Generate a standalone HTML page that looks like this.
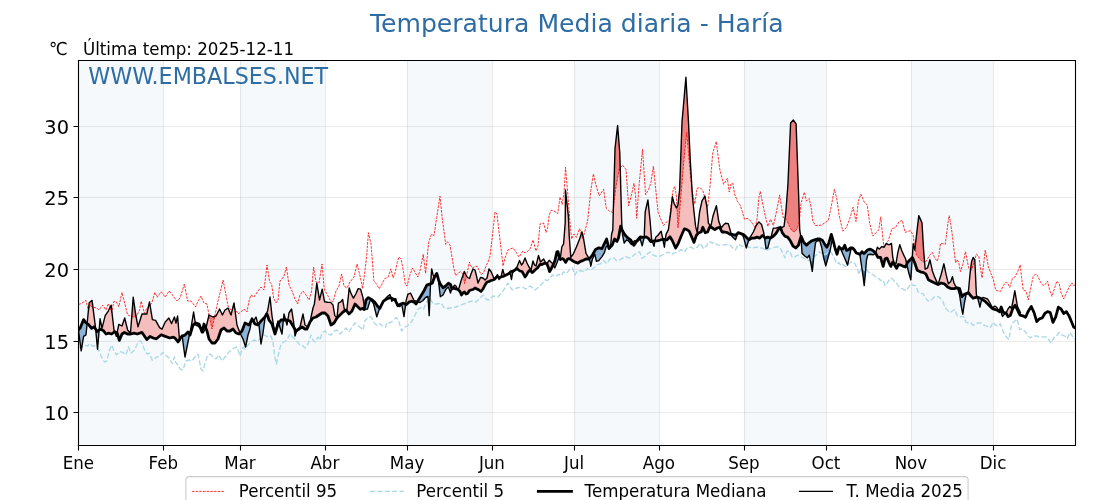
<!DOCTYPE html>
<html lang="es"><head><meta charset="utf-8"><title>Temperatura Media diaria - Haría</title>
<style>html,body{margin:0;padding:0;background:#fff;width:1120px;height:500px;overflow:hidden}svg{display:block;will-change:transform}</style>
</head><body>
<svg width="1120" height="500" viewBox="0 0 1120 500">
<rect x="0" y="0" width="1120" height="500" fill="#ffffff"/>
<rect x="78.4" y="60" width="84.89" height="385" fill="#f5f9fc"/>
<rect x="239.97" y="60" width="84.89" height="385" fill="#f5f9fc"/>
<rect x="407.02" y="60" width="84.89" height="385" fill="#f5f9fc"/>
<rect x="574.06" y="60" width="84.89" height="385" fill="#f5f9fc"/>
<rect x="743.85" y="60" width="82.15" height="385" fill="#f5f9fc"/>
<rect x="910.89" y="60" width="82.15" height="385" fill="#f5f9fc"/>
<path d="M78.5 60V445M163.5 60V445M240.5 60V445M325.5 60V445M407.5 60V445M492.5 60V445M574.5 60V445M659.5 60V445M744.5 60V445M826.5 60V445M911.5 60V445M993.5 60V445" stroke="#b0b0b0" stroke-opacity="0.25" stroke-width="1.1" fill="none"/>
<path d="M78.4 412.5H1075.2M78.4 341.5H1075.2M78.4 269.5H1075.2M78.4 197.5H1075.2M78.4 126.5H1075.2" stroke="#b0b0b0" stroke-opacity="0.25" stroke-width="1.1" fill="none"/>
<defs>
<clipPath id="axc"><rect x="78.4" y="60" width="996.8" height="385"/></clipPath>
<clipPath id="aMed"><path d="M78.4,0 L78.4,330 80.4,327.6 83.6,319.6 86,322.8 88.4,324.4 91.6,328.4 94,326.8 97.2,331.6 100.4,329.2 103.6,330.8 106,334 108.4,333.2 111.6,334 114.8,331.6 117.2,333.2 119.28,340.4 122,334 124.4,332.4 127.6,334 130.8,334 134,333.2 137.2,334 142,332.4 146.8,339.6 150,336.4 153.2,338 156.4,338.8 161.2,334.8 165.2,336.4 170,338 173.2,337.2 175,338 178,342 181,337 185,335 188,332 190,335 193,325 196,323 199,324 202,332 204,324 207,331 209,339 212,343 215,343 218,339 221,330 224,328 227,331 230,331 233,329 236,333 239,334 242,331 245,323 249,325 252,319 255,324 258,325 261,321 264,318 267,314 269,320 272,324 275,334 278,324 281,320 284,320 287,320 290,321 293,326 296,331 299,329 302,327 305,329 307,329 310,322 313,318 316,317 319,315 322,313 325,313 328,316 331,325 334,323 337,318 340,315 343,312 346,310 349,314 352,311 355,304 360.29,309.35 362.4,308.4 364.2,309.6 366,300 368.4,297.6 371.4,299.4 375,302.4 377.4,306 379.8,308.4 383.4,301.2 387,298.8 390.6,297.6 395,300 398.06,305.76 400.76,303.96 403.46,303.06 406.16,304.86 408.86,302.16 411.55,301.26 414.25,302.16 416.05,303.96 418.75,299.46 421.45,294.96 424.14,290.47 426.84,285.07 429.54,284.17 432.24,283.27 434.58,276.98 436.73,273.38 438.53,279.68 440.33,284.17 443.03,287.77 445.73,285.97 448.42,283.27 450.5,284.5 452,289 454,288 456,289 458,289.5 460,291.5 461.5,295 463,293 464.5,292 466,294 467.5,293.5 469.5,290.5 471,290 473,289.5 475,288 477,289 479,290 481,291.5 483,289 485,285 487,282 489,281.5 491,280.5 493,280 495,279 497,276.5 499,277.5 501,277 503,276.5 505,275.5 507,274.5 509,273.5 511,271.5 513,271 515,270 516.5,268.5 518,269.5 520,271 522,271.5 523.5,274 525,277 526.5,275 528,272 530,270 532,272.5 533.5,271.5 535.5,269.5 537.5,268 540.1,264.5 542,264.5 545,263.1 547,264 548.5,268 549.6,271.5 551.3,268.7 553,265.2 554.8,261 556.9,251.9 558,251.6 559,256.1 560.4,259.6 562.2,258.6 563.6,259.3 565.7,262.4 567.4,259.3 568.8,258.6 570.9,259.6 573,261 575.8,262.4 578,263.1 580.4,261.4 582.8,260.6 586,259 589.2,259 592.4,255 595.6,249.4 598.8,247.8 602,248.6 606.6,239 609,248.6 612,245.4 614.6,239 617,241.4 618.6,237.4 620.6,226.2 622.6,231 625,235 628.2,238.2 630.6,239.8 633.8,245.4 637,240.6 640.2,237 643.4,237.4 646,236.8 648.4,238.4 650.8,241.6 654,240.8 657.2,240.8 660.4,240 663.6,239.2 666.8,240 670,236.8 672.4,240.8 675.6,248 678,244 681.2,236 684.4,228.8 686.8,229.6 689.2,231.2 691.6,236.8 694,242.4 696.4,235.2 698.8,232.8 701.2,232 702.8,227.2 705.2,232.8 707.6,232 710,226.4 712.4,228 714.8,229.6 717.2,228 719.6,227.2 722,232 724.4,232 727.4,232.66 730.09,234.46 732.79,234.46 735.49,235.36 738.19,232.66 740.88,233.56 743.58,234.46 746.28,237.16 748.98,239.86 751.68,238.06 754.37,238.06 757.07,237.16 759.77,238.06 762.47,235.36 765.17,238.06 767.86,237.16 770.56,238.06 773.26,236.26 775.96,233.56 778.65,229.06 780.45,227.27 782.25,232.66 784.95,236.26 787.65,237.16 790.35,240.76 793.04,246.15 795.74,247.95 798.44,245.25 801.14,236.26 803.83,242.55 806.53,245.25 809.23,242.55 811.93,240.76 814.63,239.86 817.32,238.96 819.76,238.88 822.32,240.16 824.88,244.65 826.8,247.21 828.72,243.36 831.29,234.4 833.21,240.8 835.13,248.49 837.05,254.25 838.97,247.21 840.89,248.49 842.81,249.13 844.73,245.29 846.65,250.41 848.57,249.77 850.49,247.85 852.41,247.85 854.33,249.77 856.25,252.97 858.17,253.61 860.09,254.25 862.02,251.69 863.94,253.61 865.86,251.69 867.78,249.77 870.34,249.13 872.9,250.41 875.46,252.97 878.02,257.45 880.58,257.45 883.14,266.41 885.06,258.73 886.98,258.09 888.9,262.57 890.82,266.41 892.75,261.93 894.67,265.13 896.59,268.33 898.51,264.49 901.07,265.13 903.63,266.41 905.55,267.05 907.47,262.57 912.4,257.4 914.8,263 917.2,270.2 920.4,271.8 923.6,272.6 926,274.2 928.4,279.8 931.6,281.4 934.8,283 938,284.6 941.2,283 944.4,283.8 947.6,287 950.8,288.6 954,288.6 957.2,287.8 959.6,288.6 962,296.6 964.4,294.2 966.8,293.4 968.4,292.6 970.8,295.8 973.2,298.2 975.6,297.4 978,297.4 980.4,298.2 982.8,299.8 985.2,301.4 987.6,303.8 990,306.2 992.4,308.6 994.8,309.4 997.2,310.2 999.6,311.8 1001.2,307 1003.2,312.3 1006,313 1008.1,316.5 1010.3,315.5 1013,308.1 1015.1,305.3 1017.2,309.5 1020,315.1 1022.8,315.8 1025.6,317.2 1028.4,310.9 1031.3,306.5 1034.06,312.55 1036.76,321.55 1039.46,318.85 1042.16,317.95 1044.86,313.45 1047.55,311.65 1050.25,312.55 1052.95,322.45 1055.65,317.05 1058.35,307.16 1061.04,308.96 1063.74,313.45 1066.44,311.65 1069.14,316.15 1071.83,322.45 1073.63,326.94 1075.2,327.84 L1075.2,0 Z"/></clipPath>
<clipPath id="bMed"><path d="M78.4,500 L78.4,330 80.4,327.6 83.6,319.6 86,322.8 88.4,324.4 91.6,328.4 94,326.8 97.2,331.6 100.4,329.2 103.6,330.8 106,334 108.4,333.2 111.6,334 114.8,331.6 117.2,333.2 119.28,340.4 122,334 124.4,332.4 127.6,334 130.8,334 134,333.2 137.2,334 142,332.4 146.8,339.6 150,336.4 153.2,338 156.4,338.8 161.2,334.8 165.2,336.4 170,338 173.2,337.2 175,338 178,342 181,337 185,335 188,332 190,335 193,325 196,323 199,324 202,332 204,324 207,331 209,339 212,343 215,343 218,339 221,330 224,328 227,331 230,331 233,329 236,333 239,334 242,331 245,323 249,325 252,319 255,324 258,325 261,321 264,318 267,314 269,320 272,324 275,334 278,324 281,320 284,320 287,320 290,321 293,326 296,331 299,329 302,327 305,329 307,329 310,322 313,318 316,317 319,315 322,313 325,313 328,316 331,325 334,323 337,318 340,315 343,312 346,310 349,314 352,311 355,304 360.29,309.35 362.4,308.4 364.2,309.6 366,300 368.4,297.6 371.4,299.4 375,302.4 377.4,306 379.8,308.4 383.4,301.2 387,298.8 390.6,297.6 395,300 398.06,305.76 400.76,303.96 403.46,303.06 406.16,304.86 408.86,302.16 411.55,301.26 414.25,302.16 416.05,303.96 418.75,299.46 421.45,294.96 424.14,290.47 426.84,285.07 429.54,284.17 432.24,283.27 434.58,276.98 436.73,273.38 438.53,279.68 440.33,284.17 443.03,287.77 445.73,285.97 448.42,283.27 450.5,284.5 452,289 454,288 456,289 458,289.5 460,291.5 461.5,295 463,293 464.5,292 466,294 467.5,293.5 469.5,290.5 471,290 473,289.5 475,288 477,289 479,290 481,291.5 483,289 485,285 487,282 489,281.5 491,280.5 493,280 495,279 497,276.5 499,277.5 501,277 503,276.5 505,275.5 507,274.5 509,273.5 511,271.5 513,271 515,270 516.5,268.5 518,269.5 520,271 522,271.5 523.5,274 525,277 526.5,275 528,272 530,270 532,272.5 533.5,271.5 535.5,269.5 537.5,268 540.1,264.5 542,264.5 545,263.1 547,264 548.5,268 549.6,271.5 551.3,268.7 553,265.2 554.8,261 556.9,251.9 558,251.6 559,256.1 560.4,259.6 562.2,258.6 563.6,259.3 565.7,262.4 567.4,259.3 568.8,258.6 570.9,259.6 573,261 575.8,262.4 578,263.1 580.4,261.4 582.8,260.6 586,259 589.2,259 592.4,255 595.6,249.4 598.8,247.8 602,248.6 606.6,239 609,248.6 612,245.4 614.6,239 617,241.4 618.6,237.4 620.6,226.2 622.6,231 625,235 628.2,238.2 630.6,239.8 633.8,245.4 637,240.6 640.2,237 643.4,237.4 646,236.8 648.4,238.4 650.8,241.6 654,240.8 657.2,240.8 660.4,240 663.6,239.2 666.8,240 670,236.8 672.4,240.8 675.6,248 678,244 681.2,236 684.4,228.8 686.8,229.6 689.2,231.2 691.6,236.8 694,242.4 696.4,235.2 698.8,232.8 701.2,232 702.8,227.2 705.2,232.8 707.6,232 710,226.4 712.4,228 714.8,229.6 717.2,228 719.6,227.2 722,232 724.4,232 727.4,232.66 730.09,234.46 732.79,234.46 735.49,235.36 738.19,232.66 740.88,233.56 743.58,234.46 746.28,237.16 748.98,239.86 751.68,238.06 754.37,238.06 757.07,237.16 759.77,238.06 762.47,235.36 765.17,238.06 767.86,237.16 770.56,238.06 773.26,236.26 775.96,233.56 778.65,229.06 780.45,227.27 782.25,232.66 784.95,236.26 787.65,237.16 790.35,240.76 793.04,246.15 795.74,247.95 798.44,245.25 801.14,236.26 803.83,242.55 806.53,245.25 809.23,242.55 811.93,240.76 814.63,239.86 817.32,238.96 819.76,238.88 822.32,240.16 824.88,244.65 826.8,247.21 828.72,243.36 831.29,234.4 833.21,240.8 835.13,248.49 837.05,254.25 838.97,247.21 840.89,248.49 842.81,249.13 844.73,245.29 846.65,250.41 848.57,249.77 850.49,247.85 852.41,247.85 854.33,249.77 856.25,252.97 858.17,253.61 860.09,254.25 862.02,251.69 863.94,253.61 865.86,251.69 867.78,249.77 870.34,249.13 872.9,250.41 875.46,252.97 878.02,257.45 880.58,257.45 883.14,266.41 885.06,258.73 886.98,258.09 888.9,262.57 890.82,266.41 892.75,261.93 894.67,265.13 896.59,268.33 898.51,264.49 901.07,265.13 903.63,266.41 905.55,267.05 907.47,262.57 912.4,257.4 914.8,263 917.2,270.2 920.4,271.8 923.6,272.6 926,274.2 928.4,279.8 931.6,281.4 934.8,283 938,284.6 941.2,283 944.4,283.8 947.6,287 950.8,288.6 954,288.6 957.2,287.8 959.6,288.6 962,296.6 964.4,294.2 966.8,293.4 968.4,292.6 970.8,295.8 973.2,298.2 975.6,297.4 978,297.4 980.4,298.2 982.8,299.8 985.2,301.4 987.6,303.8 990,306.2 992.4,308.6 994.8,309.4 997.2,310.2 999.6,311.8 1001.2,307 1003.2,312.3 1006,313 1008.1,316.5 1010.3,315.5 1013,308.1 1015.1,305.3 1017.2,309.5 1020,315.1 1022.8,315.8 1025.6,317.2 1028.4,310.9 1031.3,306.5 1034.06,312.55 1036.76,321.55 1039.46,318.85 1042.16,317.95 1044.86,313.45 1047.55,311.65 1050.25,312.55 1052.95,322.45 1055.65,317.05 1058.35,307.16 1061.04,308.96 1063.74,313.45 1066.44,311.65 1069.14,316.15 1071.83,322.45 1073.63,326.94 1075.2,327.84 L1075.2,500 Z"/></clipPath>
<clipPath id="aP95"><path d="M78.4,0 L78.4,304.4 81.2,303.6 86,300.4 88.4,310.8 90,305.2 93.2,307.6 96.4,307.6 98.8,310 102.8,305.2 106,310 108.4,303.6 111.6,312.4 114,301.2 116.4,302 118.8,306.8 122,292.4 124.4,302 127.6,314.8 130.8,316.4 134,317.2 136.4,316.4 139.6,310 141.2,301.2 144.4,313.2 146.8,308.4 149.2,306 151.6,303.6 154.8,292.4 157.2,297.2 161.2,291.6 165.2,297.2 169.2,290.8 177,301 180,298 184.4,284 187.6,301 191,301 195.6,307 198,301 201,296 204,303 207,304 209,315 212,329 215,315 218,301 221,289 223,280 226,295 228,306 231,310 234,307 238,314 241,312 244,309 247,312 249,301 251,295 254,297 258,291 261,287 264,290 267,265 269.6,282 271.6,284 273.6,298 276,303 278,300 280,281 282,279 284,276 286.4,267 289,285 292,291 295,299 297.6,304 300,295 303,291 306,295 309,300 311.6,291 313.6,267 316,282 319,283 322,264 324.4,290 327,294 330,300 333,302 336,291 339,286 341.6,274 344,286 347,288 350,282 354,277 357,264 360.3,277 362.6,288.7 364.8,271.6 366.6,257.2 368.4,232.7 371.1,244.4 373.4,274.9 373.8,280.6 376.5,284.2 379.2,288.7 381.9,284.2 384.6,278.8 388.2,277 390.9,268.9 393.2,277.9 395.4,271.6 397.2,262.6 399,257 401.1,259 403.5,271.6 405.3,284.2 407.1,286 409.8,275.2 412.5,268 415.2,272.5 417.8,277 420.5,268.9 423.2,254.2 425.6,273.4 428.6,242.6 431.3,234.5 434,235.4 436.7,217.4 440,196.2 442.1,217.4 444.8,237.2 445.7,244.4 447.5,241.7 450,245 452,257.2 453.8,268 455.6,275.8 458,273.4 460.4,271.6 462.8,274 464.6,283.6 467,274 469.4,262 470.6,265.6 472.4,268 474.8,266.8 477.2,266.2 479.6,271.6 481.4,274.6 483.8,272.2 486.2,265.6 488,262 489.8,257.2 492.4,236 495,212 497,214 499,232 501,248 503,266 505,258 508,250 510,249 513,248 516,252 519,257 521,254 523,251 525,253 528,251 530,249 533,240 536,251 538,246 540,224 543.6,223 546,232.6 547.6,227.8 549.2,215 551.2,210.2 554,211 557.8,213.5 560,197 562.2,204.7 564,192.6 565.5,167.3 567.7,192.6 569.9,221.2 571.6,239 574,234 576.4,237.4 579.6,228.6 582.8,239 585.2,230 587.6,221 590.8,190.4 593.4,173.9 595.6,183.8 599.2,195.9 603.6,189.3 606.2,208 609.5,211.3 612.8,212.4 616.1,186 619.4,168.4 622.7,165.1 626,169.5 628.6,205.8 631.5,194.8 634,183.2 635.6,196 636.7,218.4 638.8,188 642.5,149.3 645.6,194.8 648.4,189.6 650.8,183.2 653.4,166.2 656,192 658,212 661.2,220 663.6,225.6 666,222.4 669.2,220.8 671.6,200.8 673.2,189.6 674.8,186.4 676.4,196 678,228 679.6,212 680.9,196 683.5,165 686.7,132.4 689.5,165 692,190 694.8,204 697.2,188 700.4,188 702.8,190.4 705.2,199.2 707.6,207.2 710,186.4 712.7,153.2 716.3,141.5 719.7,168.8 723.6,184.4 727.4,178.3 729.2,192 731,184 732.8,183 734.6,194 737.3,201.2 740,204.8 741.8,210.2 744.5,219.2 747.2,218.3 749.9,220.1 752.6,223.7 755.3,228.2 757.1,218.3 758.9,197.6 760.3,191.3 762.5,203 765.2,215.6 767.9,226.4 770.6,219.2 773.3,225.5 775.1,218.3 777.8,204.8 779.6,194.9 781.4,206.6 783.2,217.4 784.9,218.3 786.7,220.1 789.4,226.4 792.1,230.9 794.8,231.8 797.5,228.2 799.3,221 801.1,203 804.4,192.2 806.5,201.2 809.2,198.5 811,206.6 812.8,221 815.5,225.5 821.2,225.2 824.8,222.8 828.4,220.4 831.3,206 834.4,189.2 836.8,198.8 839.2,215.6 842.8,231.2 846.4,227.6 850,218 853.1,207.2 856,221.6 858.4,201.2 860.8,194 864.4,202.4 867.2,204.8 869.6,222.8 872.8,236 876.4,232.4 878.7,230 880.7,216.8 883.8,247 885.5,244.3 888.3,240.7 891.9,228.8 895.5,227.6 899.1,221.6 902.3,220.4 905.1,232.4 908.7,231.2 910.8,230.8 913.2,235.6 914.8,246.8 916.4,254.8 918.8,258 922,261.2 925.2,262.8 927.6,258.8 930,254.8 932.4,252.4 934.8,258 937.2,261.2 938.8,256.4 940.4,243.6 942.8,243.6 945.2,244.4 946.8,232.4 947.92,222.8 949.2,215.6 950.8,224.4 952.4,235.6 954,250 955.6,262.8 957.2,259.6 958.8,262.8 960.4,271.6 962.8,264.4 965.52,251.6 967.6,262.8 969.2,269.2 971.6,270 974,262.8 976.4,254 978.8,256.4 980.4,267.6 982,278 983.6,264.4 985.2,250 986.8,258 988.4,266.8 990.8,273.2 993.2,278.8 995.6,290 998,290.8 1000.4,291.6 1003.49,285.58 1006.19,281.98 1007.99,283.78 1009.78,287.37 1012.48,278.38 1015.18,276.58 1017.88,271.19 1020.22,264.89 1021.47,276.58 1023.27,290.07 1025.97,290.97 1028.31,299.96 1030.47,289.17 1033.17,276.58 1035.86,273.88 1037.66,275.68 1040.36,281.98 1043.06,285.58 1045.76,283.78 1047.55,281.08 1049.35,289.17 1052.05,296.37 1054.75,287.37 1056.91,281.08 1059.24,283.78 1061.04,292.77 1063.74,299.06 1066.44,292.77 1069.14,287.37 1071.83,282.88 1073.63,285.58 1075.2,284.68 L1075.2,0 Z"/></clipPath>
<clipPath id="bP5"><path d="M78.4,500 L78.4,347.6 81.2,347.6 84.4,345.2 87.6,346 90,343.6 92.4,346 94.8,346 97.2,346.8 101.2,356.4 104.4,362 106.8,361.2 109.2,350.8 111.6,345.2 114,350.8 116.4,354.8 119.6,351.6 122.8,352.4 126,354.8 128.4,346.8 130.8,353.2 134,350.8 136.4,346 138.8,341.2 141.2,341.2 143.6,347.6 146.8,354 149.2,353.2 152.4,360.4 156.4,357.2 159.6,356.4 162.8,352.4 166,355.6 169.2,358 172.4,363.6 174.4,357 176,363 178,365 180,369 183,370 186,361 189,360 192,361 195,357 198,354 201,369 203,371 205,363 207,357 210,354 213,357 216,359 219,355 222,361 225,357 228,353 231,350 234,348 237,347 240,356 243,347 245,349 248,345 251,342 254,340 258,341 261,337 264,335 268,337 271,336 273,342 275,358 276.4,364 279,352 281,344 284,342 287,340 290,334 293,337 296,340 299,344 303,346 305,348 308,344 311,335 313,340 315,342 318,337 320,340 322,333 325,331 328,334 331,335 334,331 337,330 340,334 343,331 346,328 349,332 352,327 355,323 360.29,327.34 362.99,330.04 364.79,321.04 367.49,318.35 370.19,316.55 371.99,318.35 374.68,323.74 377.38,325.54 380.08,323.74 382.78,326.44 385.47,327.34 387.27,321.94 389.97,322.84 392.67,321.04 396.27,317.45 398.96,321.94 401.66,330.94 404.36,327.34 407.96,325.54 411.55,321.94 415.15,314.75 417.85,309.35 420.55,307.55 423.24,309.35 425.94,303.96 427.74,300.36 429.54,297.66 433.14,303.96 436.73,303.96 441.23,303.06 443.93,307.55 447.53,308.45 456,307 466,303 472,301 476,302 483,295 486,299 489,300 493,296 498,297 503,291 508,283 512,290 517,288 522,287 526,289 530,286 535,290 540,286 542,283.8 545.2,279.8 547.6,280.6 550,278.2 552.4,275 555.6,276.6 558.8,274.2 561.2,275.8 563.6,271.8 566.8,273.4 570,268.6 572.4,267.8 574.8,275 578,270.2 581.2,271 584.4,271.8 587.6,268.6 590.8,270.2 594,267.8 597.2,264.6 600.4,263.8 603.6,260.6 606.8,263.8 610,259 613.2,257.4 616.4,260.6 619.6,259.8 622.8,258.2 626,256.6 629.2,258.2 632.4,256.6 636.4,252.8 639.6,252 642,258.4 644.4,256.8 646.8,254.4 650,252 653.2,255.2 655.6,256 658.8,256.8 662,255.2 665.2,253.6 668.4,252 671.6,254.4 674.8,252.8 678,252 681.2,249.6 684.4,252 687.6,247.2 690.8,247.2 694,248.8 697.2,247.2 700.4,243.2 703.6,248.8 706.8,245.6 709.2,241.6 712.4,243.2 714.8,242.4 717.2,244.8 720.4,245.6 723.6,244.8 729.19,244.35 732.79,247.95 735.49,249.75 738.19,244.35 741.78,246.15 745.38,246.15 748.98,247.05 752.58,247.95 756.17,247.05 759.77,247.95 762.47,247.95 766.06,250.65 769.66,248.85 772.36,247.95 775.96,247.05 779.55,247.05 783.15,253.35 784.95,257.84 786.75,251.55 789.45,250.65 792.14,256.94 794.84,256.94 797.54,255.14 801.14,256.94 804.73,258.74 808.33,260.54 811.03,260.54 813.73,256.94 816.42,255.14 819.12,251.69 821.04,252.97 822.96,252.33 824.88,254.89 826.8,253.61 829.36,251.69 831.29,252.33 833.21,256.81 835.13,260.01 837.05,263.85 838.97,262.57 840.89,265.77 842.81,264.49 845.37,266.41 847.29,265.77 849.85,262.57 852.41,261.29 854.97,263.85 857.53,268.97 858.81,274.73 860.09,270.89 862.02,266.41 864.58,270.25 866.5,268.97 868.42,272.17 870.34,272.81 872.9,274.73 874.82,276.02 876.74,277.3 878.66,278.58 880.58,280.5 883.14,279.86 885.06,285.62 886.98,283.06 888.9,280.5 890.82,277.94 892.75,279.22 894.67,281.78 896.59,283.06 898.51,286.26 901.07,288.18 903.63,289.46 906.19,290.74 908.75,286.9 910.8,283.8 913.2,285.4 915.6,285.4 918,291.8 920.4,293.4 922.8,293.4 925.2,297.4 927.6,300.6 930,301.4 932.4,299 934.8,296.6 938,296.6 940.4,298.2 942.8,301.4 945.2,307.8 947.6,310.2 950,312.6 952.4,311 954.8,309.4 957.2,315.8 960.4,316.6 963.6,316.6 966,322.2 968.4,323 970.8,323 973.2,325.4 975.6,323.8 978,323 981.2,323 984.4,325.4 986.8,326.2 989.2,327.8 990.8,327 993.2,322.2 995.6,325.4 998,326.2 1000.4,323.8 1003.49,332.34 1006.19,336.83 1008.88,339.53 1011.58,324.24 1014.28,321.55 1016.98,318.85 1019.68,329.64 1022.37,328.74 1025.07,331.44 1027.77,335.94 1030.47,337.73 1033.17,335.94 1035.86,335.94 1039.46,336.83 1042.16,336.83 1045.76,336.83 1048.45,339.53 1051.15,343.13 1053.85,337.73 1056.55,335.94 1059.24,332.34 1061.94,335.04 1064.64,335.94 1067.34,338.63 1070.04,332.34 1072.73,336.83 1075.2,339.53 L1075.2,500 Z"/></clipPath>
</defs>
<g clip-path="url(#axc)">
<path d="M78.4,500 L78.4,330 81.2,350.8 83.6,336.4 86,334.8 89.2,302.8 92.08,300.4 94,315.6 95.6,328.4 97.52,349.2 100.08,318.8 102,328.4 105.2,315.6 108.4,310.8 111.12,305.2 114,330 116.4,336.4 118.8,324.4 122,326 124.72,318 127.6,330 130.48,333.2 133.2,297.2 135.6,314 138,326.8 142,314 146.8,314 149.52,302 152.4,319.6 155.6,320.4 159.6,327.6 162,329.2 165.2,322 168.88,318 171.6,323.6 174.4,317 176,323 177.6,316 179.6,341 182,335 185,357 189,337 191,328 193.6,312 195.6,325 198,326 201,329 203,333 206,328 209,315 213,317 216,316 219.6,309 222.4,315 225,310 228,308 231,315 234,303 237,325 240,333 243,339 245.6,347 248,335 250,329 252,318 253.6,321 256,317 257.6,323 259,325 261,344 263,333 265.6,314 266,314 267.6,311 270,297 272,316 275,334 278,321 280.4,329 282,334 284,314 287,325 289,313 291.6,309 293.6,322 295,336 297,330 300,327 303,314 305,325 308,327 310,322 313,308 314.4,304 316.8,283.2 319.5,300 322.2,289.2 324.6,301.8 327.6,302.2 330.6,302.4 333,305 334.8,315.6 337,318 338.4,303 340.8,301.8 342.6,299.4 344.4,309.6 346.8,310.8 349.2,288 351,293.4 353.4,298.2 355.8,294 358.2,288.6 360.6,289.2 363,297.6 364.8,309.6 367.5,309 370.5,299.4 373.5,303.5 376.8,316.8 379.2,309.6 382.2,303.6 385.8,298.2 388,296 390,294.6 391.8,301.2 395,298.8 395.73,298.56 397.17,305.76 399.86,306.65 401.66,303.96 404,316.55 406.16,300.36 407.96,294.06 410.65,293.17 414,300.5 417,301.5 420,302.5 423,300.5 425.6,297.5 428,296.5 429.18,315.65 430.44,285.97 431.7,268.88 433.14,275.18 434.58,276.98 436.73,273.38 438.53,281.47 440.33,296.76 443.03,294.96 445.73,289.57 448.42,286.87 450.5,293 452,287 453,287.5 454.5,285.2 456,286 457.5,289.5 459,288 461,281 464.3,271.5 466,275 467.5,277.5 469.5,278.5 471,274 473,269 475,270 476.5,276 478,283 480.5,277.5 483,278 485,280 487,278 489,269 491,271.5 493,276 494,279 496,277 497.5,274.5 499,279.5 501,277 502.8,269.5 504,274 506,275.5 508,274 510,272.5 511.5,279.5 512.5,273 515,270 517,267 519.5,260.5 521.5,265 523,263 525,258 527,263 529,267 531,270 533,261 534.5,265 536,266 538.5,255.5 540.5,262 543.6,258.9 545.5,262.5 547,263.5 549.2,260.3 551,262 552.5,263.5 554.8,268 556.9,263.1 558.7,258.2 560.4,257.5 561.8,247 563.6,243.8 565.2,223 565.5,190 568.4,216.6 569.2,235.8 570.8,257.4 573.2,254.2 576.4,247 579.6,239 582,231.8 583.6,239 586,253.4 588.4,257.4 590,261.4 590.8,266.2 592.4,259 594.8,254.2 596.4,261.4 598.8,260.6 602,256.6 604.4,252.6 606,247 607.6,245.4 609.2,248.6 610.8,243.8 611.6,234.2 612.8,230 615,148.6 617.6,125.5 619.8,153 621.6,219 622,227.8 622.6,235 624.2,243 626.6,239.8 628.6,241 631.4,244.6 634.6,240.6 637.5,241.5 640.2,239 642.2,245.8 644.2,237.4 645.2,212 647.92,200 650,220 651.6,239.2 654,246.4 655.6,237.6 658,235.2 661.2,231.2 662.8,239.2 664.4,247.2 666,234.4 668.4,229.6 670.8,212 672.4,196.8 674,203.2 676.4,208 678,204.8 679.6,189.6 682,122 685.9,77.3 688.5,122 690.3,161 692.4,196 694,212 695.6,226.4 697.2,232.8 699.6,212 702,200.8 704.88,196 706.8,206.4 708.4,223.2 710.8,226.4 713.2,215.2 716.4,205.6 718.8,221.6 721.2,228 723.6,224.8 725.52,223.2 728.29,223.67 730.09,229.96 731.89,236.26 733.69,238.06 735.49,239.86 737.29,234.46 739.09,232.66 741.78,234.46 743.58,237.16 746.28,247.95 748.98,238.96 750.78,236.26 753.47,231.76 756.17,225.47 758.87,221.87 761.57,224.57 763.73,232.66 766.06,248.85 767.86,247.95 769.66,240.76 771.46,235.36 773.26,228.17 775.96,228.17 778.65,227.27 780.45,228.17 782.25,227.27 784.05,226.37 785.85,211.98 787.9,185 790.6,123 793.3,120 796.1,124 798.8,200 799.7,229.96 801.14,238.96 802.04,253.35 804.73,256.04 807.43,257.84 809.23,255.14 811.03,264.14 812.29,271.33 813.73,256.94 815.53,242.55 817.32,240.76 819.76,240.8 821.68,247.21 823.6,257.45 825.78,265.77 828.08,257.45 830.01,251.05 831.93,240.8 833.21,242.08 835.13,248.49 837.05,253.61 838.97,245.93 840.25,248.49 841.53,251.05 844.09,256.81 846.01,261.29 847.55,265.13 849.21,257.45 851.13,248.49 853.05,249.13 854.97,251.05 856.89,252.97 858.81,253.61 860.09,256.17 861.63,266.41 863.3,277.94 864.19,285.62 865.22,275.38 866.5,260.01 867.78,254.89 870.34,254.25 872.9,254.89 875.46,253.61 877.38,247.21 879.3,249.13 881.86,246.57 884.17,247.21 886.34,243.36 888.26,244.65 889.54,244.65 891.46,243.36 892.75,257.45 894.03,262.57 895.95,263.85 897.87,252.33 899.79,244.65 901.71,250.41 903.63,254.89 905.55,258.73 906.83,264.49 908.75,272.81 910.8,279.8 913.2,243.6 914.8,250 917.2,229.2 918.8,215.6 922,222.8 923.6,250 925.2,269.2 927.6,267.8 930,259.8 932.4,271 934.8,277.4 938,284.6 941.2,274.2 943.92,263.8 946,274.2 948.4,283.8 950.8,281.4 952.4,276.6 954,283 955.6,286.2 958,289.4 959.6,295 961.2,306.2 962.8,314.2 964.4,303 966,295 968.4,291.8 970,274.2 971.6,261.4 973.2,257.4 974.8,259.8 976.4,295 977.2,296.6 978.8,302.2 979.92,307 981.2,301.4 982.8,297.4 985.2,298.2 987.6,299 990,303 992.4,307.8 994.8,306.2 996.4,307 998,309.4 1000.4,310.2 1002.5,316.5 1004.4,314.4 1006.2,312.6 1008,309 1009.9,306.4 1011.5,308.5 1013.2,300 1014.8,290.6 1016.2,299 1017.5,306.5 1020.4,312.5 L1020.4,500 Z" fill="#f6bdbd" clip-path="url(#aMed)"/>
<path d="M78.4,500 L78.4,330 81.2,350.8 83.6,336.4 86,334.8 89.2,302.8 92.08,300.4 94,315.6 95.6,328.4 97.52,349.2 100.08,318.8 102,328.4 105.2,315.6 108.4,310.8 111.12,305.2 114,330 116.4,336.4 118.8,324.4 122,326 124.72,318 127.6,330 130.48,333.2 133.2,297.2 135.6,314 138,326.8 142,314 146.8,314 149.52,302 152.4,319.6 155.6,320.4 159.6,327.6 162,329.2 165.2,322 168.88,318 171.6,323.6 174.4,317 176,323 177.6,316 179.6,341 182,335 185,357 189,337 191,328 193.6,312 195.6,325 198,326 201,329 203,333 206,328 209,315 213,317 216,316 219.6,309 222.4,315 225,310 228,308 231,315 234,303 237,325 240,333 243,339 245.6,347 248,335 250,329 252,318 253.6,321 256,317 257.6,323 259,325 261,344 263,333 265.6,314 266,314 267.6,311 270,297 272,316 275,334 278,321 280.4,329 282,334 284,314 287,325 289,313 291.6,309 293.6,322 295,336 297,330 300,327 303,314 305,325 308,327 310,322 313,308 314.4,304 316.8,283.2 319.5,300 322.2,289.2 324.6,301.8 327.6,302.2 330.6,302.4 333,305 334.8,315.6 337,318 338.4,303 340.8,301.8 342.6,299.4 344.4,309.6 346.8,310.8 349.2,288 351,293.4 353.4,298.2 355.8,294 358.2,288.6 360.6,289.2 363,297.6 364.8,309.6 367.5,309 370.5,299.4 373.5,303.5 376.8,316.8 379.2,309.6 382.2,303.6 385.8,298.2 388,296 390,294.6 391.8,301.2 395,298.8 395.73,298.56 397.17,305.76 399.86,306.65 401.66,303.96 404,316.55 406.16,300.36 407.96,294.06 410.65,293.17 414,300.5 417,301.5 420,302.5 423,300.5 425.6,297.5 428,296.5 429.18,315.65 430.44,285.97 431.7,268.88 433.14,275.18 434.58,276.98 436.73,273.38 438.53,281.47 440.33,296.76 443.03,294.96 445.73,289.57 448.42,286.87 450.5,293 452,287 453,287.5 454.5,285.2 456,286 457.5,289.5 459,288 461,281 464.3,271.5 466,275 467.5,277.5 469.5,278.5 471,274 473,269 475,270 476.5,276 478,283 480.5,277.5 483,278 485,280 487,278 489,269 491,271.5 493,276 494,279 496,277 497.5,274.5 499,279.5 501,277 502.8,269.5 504,274 506,275.5 508,274 510,272.5 511.5,279.5 512.5,273 515,270 517,267 519.5,260.5 521.5,265 523,263 525,258 527,263 529,267 531,270 533,261 534.5,265 536,266 538.5,255.5 540.5,262 543.6,258.9 545.5,262.5 547,263.5 549.2,260.3 551,262 552.5,263.5 554.8,268 556.9,263.1 558.7,258.2 560.4,257.5 561.8,247 563.6,243.8 565.2,223 565.5,190 568.4,216.6 569.2,235.8 570.8,257.4 573.2,254.2 576.4,247 579.6,239 582,231.8 583.6,239 586,253.4 588.4,257.4 590,261.4 590.8,266.2 592.4,259 594.8,254.2 596.4,261.4 598.8,260.6 602,256.6 604.4,252.6 606,247 607.6,245.4 609.2,248.6 610.8,243.8 611.6,234.2 612.8,230 615,148.6 617.6,125.5 619.8,153 621.6,219 622,227.8 622.6,235 624.2,243 626.6,239.8 628.6,241 631.4,244.6 634.6,240.6 637.5,241.5 640.2,239 642.2,245.8 644.2,237.4 645.2,212 647.92,200 650,220 651.6,239.2 654,246.4 655.6,237.6 658,235.2 661.2,231.2 662.8,239.2 664.4,247.2 666,234.4 668.4,229.6 670.8,212 672.4,196.8 674,203.2 676.4,208 678,204.8 679.6,189.6 682,122 685.9,77.3 688.5,122 690.3,161 692.4,196 694,212 695.6,226.4 697.2,232.8 699.6,212 702,200.8 704.88,196 706.8,206.4 708.4,223.2 710.8,226.4 713.2,215.2 716.4,205.6 718.8,221.6 721.2,228 723.6,224.8 725.52,223.2 728.29,223.67 730.09,229.96 731.89,236.26 733.69,238.06 735.49,239.86 737.29,234.46 739.09,232.66 741.78,234.46 743.58,237.16 746.28,247.95 748.98,238.96 750.78,236.26 753.47,231.76 756.17,225.47 758.87,221.87 761.57,224.57 763.73,232.66 766.06,248.85 767.86,247.95 769.66,240.76 771.46,235.36 773.26,228.17 775.96,228.17 778.65,227.27 780.45,228.17 782.25,227.27 784.05,226.37 785.85,211.98 787.9,185 790.6,123 793.3,120 796.1,124 798.8,200 799.7,229.96 801.14,238.96 802.04,253.35 804.73,256.04 807.43,257.84 809.23,255.14 811.03,264.14 812.29,271.33 813.73,256.94 815.53,242.55 817.32,240.76 819.76,240.8 821.68,247.21 823.6,257.45 825.78,265.77 828.08,257.45 830.01,251.05 831.93,240.8 833.21,242.08 835.13,248.49 837.05,253.61 838.97,245.93 840.25,248.49 841.53,251.05 844.09,256.81 846.01,261.29 847.55,265.13 849.21,257.45 851.13,248.49 853.05,249.13 854.97,251.05 856.89,252.97 858.81,253.61 860.09,256.17 861.63,266.41 863.3,277.94 864.19,285.62 865.22,275.38 866.5,260.01 867.78,254.89 870.34,254.25 872.9,254.89 875.46,253.61 877.38,247.21 879.3,249.13 881.86,246.57 884.17,247.21 886.34,243.36 888.26,244.65 889.54,244.65 891.46,243.36 892.75,257.45 894.03,262.57 895.95,263.85 897.87,252.33 899.79,244.65 901.71,250.41 903.63,254.89 905.55,258.73 906.83,264.49 908.75,272.81 910.8,279.8 913.2,243.6 914.8,250 917.2,229.2 918.8,215.6 922,222.8 923.6,250 925.2,269.2 927.6,267.8 930,259.8 932.4,271 934.8,277.4 938,284.6 941.2,274.2 943.92,263.8 946,274.2 948.4,283.8 950.8,281.4 952.4,276.6 954,283 955.6,286.2 958,289.4 959.6,295 961.2,306.2 962.8,314.2 964.4,303 966,295 968.4,291.8 970,274.2 971.6,261.4 973.2,257.4 974.8,259.8 976.4,295 977.2,296.6 978.8,302.2 979.92,307 981.2,301.4 982.8,297.4 985.2,298.2 987.6,299 990,303 992.4,307.8 994.8,306.2 996.4,307 998,309.4 1000.4,310.2 1002.5,316.5 1004.4,314.4 1006.2,312.6 1008,309 1009.9,306.4 1011.5,308.5 1013.2,300 1014.8,290.6 1016.2,299 1017.5,306.5 1020.4,312.5 L1020.4,500 Z" fill="#ef8080" clip-path="url(#aP95)"/>
<path d="M78.4,0 L78.4,330 81.2,350.8 83.6,336.4 86,334.8 89.2,302.8 92.08,300.4 94,315.6 95.6,328.4 97.52,349.2 100.08,318.8 102,328.4 105.2,315.6 108.4,310.8 111.12,305.2 114,330 116.4,336.4 118.8,324.4 122,326 124.72,318 127.6,330 130.48,333.2 133.2,297.2 135.6,314 138,326.8 142,314 146.8,314 149.52,302 152.4,319.6 155.6,320.4 159.6,327.6 162,329.2 165.2,322 168.88,318 171.6,323.6 174.4,317 176,323 177.6,316 179.6,341 182,335 185,357 189,337 191,328 193.6,312 195.6,325 198,326 201,329 203,333 206,328 209,315 213,317 216,316 219.6,309 222.4,315 225,310 228,308 231,315 234,303 237,325 240,333 243,339 245.6,347 248,335 250,329 252,318 253.6,321 256,317 257.6,323 259,325 261,344 263,333 265.6,314 266,314 267.6,311 270,297 272,316 275,334 278,321 280.4,329 282,334 284,314 287,325 289,313 291.6,309 293.6,322 295,336 297,330 300,327 303,314 305,325 308,327 310,322 313,308 314.4,304 316.8,283.2 319.5,300 322.2,289.2 324.6,301.8 327.6,302.2 330.6,302.4 333,305 334.8,315.6 337,318 338.4,303 340.8,301.8 342.6,299.4 344.4,309.6 346.8,310.8 349.2,288 351,293.4 353.4,298.2 355.8,294 358.2,288.6 360.6,289.2 363,297.6 364.8,309.6 367.5,309 370.5,299.4 373.5,303.5 376.8,316.8 379.2,309.6 382.2,303.6 385.8,298.2 388,296 390,294.6 391.8,301.2 395,298.8 395.73,298.56 397.17,305.76 399.86,306.65 401.66,303.96 404,316.55 406.16,300.36 407.96,294.06 410.65,293.17 414,300.5 417,301.5 420,302.5 423,300.5 425.6,297.5 428,296.5 429.18,315.65 430.44,285.97 431.7,268.88 433.14,275.18 434.58,276.98 436.73,273.38 438.53,281.47 440.33,296.76 443.03,294.96 445.73,289.57 448.42,286.87 450.5,293 452,287 453,287.5 454.5,285.2 456,286 457.5,289.5 459,288 461,281 464.3,271.5 466,275 467.5,277.5 469.5,278.5 471,274 473,269 475,270 476.5,276 478,283 480.5,277.5 483,278 485,280 487,278 489,269 491,271.5 493,276 494,279 496,277 497.5,274.5 499,279.5 501,277 502.8,269.5 504,274 506,275.5 508,274 510,272.5 511.5,279.5 512.5,273 515,270 517,267 519.5,260.5 521.5,265 523,263 525,258 527,263 529,267 531,270 533,261 534.5,265 536,266 538.5,255.5 540.5,262 543.6,258.9 545.5,262.5 547,263.5 549.2,260.3 551,262 552.5,263.5 554.8,268 556.9,263.1 558.7,258.2 560.4,257.5 561.8,247 563.6,243.8 565.2,223 565.5,190 568.4,216.6 569.2,235.8 570.8,257.4 573.2,254.2 576.4,247 579.6,239 582,231.8 583.6,239 586,253.4 588.4,257.4 590,261.4 590.8,266.2 592.4,259 594.8,254.2 596.4,261.4 598.8,260.6 602,256.6 604.4,252.6 606,247 607.6,245.4 609.2,248.6 610.8,243.8 611.6,234.2 612.8,230 615,148.6 617.6,125.5 619.8,153 621.6,219 622,227.8 622.6,235 624.2,243 626.6,239.8 628.6,241 631.4,244.6 634.6,240.6 637.5,241.5 640.2,239 642.2,245.8 644.2,237.4 645.2,212 647.92,200 650,220 651.6,239.2 654,246.4 655.6,237.6 658,235.2 661.2,231.2 662.8,239.2 664.4,247.2 666,234.4 668.4,229.6 670.8,212 672.4,196.8 674,203.2 676.4,208 678,204.8 679.6,189.6 682,122 685.9,77.3 688.5,122 690.3,161 692.4,196 694,212 695.6,226.4 697.2,232.8 699.6,212 702,200.8 704.88,196 706.8,206.4 708.4,223.2 710.8,226.4 713.2,215.2 716.4,205.6 718.8,221.6 721.2,228 723.6,224.8 725.52,223.2 728.29,223.67 730.09,229.96 731.89,236.26 733.69,238.06 735.49,239.86 737.29,234.46 739.09,232.66 741.78,234.46 743.58,237.16 746.28,247.95 748.98,238.96 750.78,236.26 753.47,231.76 756.17,225.47 758.87,221.87 761.57,224.57 763.73,232.66 766.06,248.85 767.86,247.95 769.66,240.76 771.46,235.36 773.26,228.17 775.96,228.17 778.65,227.27 780.45,228.17 782.25,227.27 784.05,226.37 785.85,211.98 787.9,185 790.6,123 793.3,120 796.1,124 798.8,200 799.7,229.96 801.14,238.96 802.04,253.35 804.73,256.04 807.43,257.84 809.23,255.14 811.03,264.14 812.29,271.33 813.73,256.94 815.53,242.55 817.32,240.76 819.76,240.8 821.68,247.21 823.6,257.45 825.78,265.77 828.08,257.45 830.01,251.05 831.93,240.8 833.21,242.08 835.13,248.49 837.05,253.61 838.97,245.93 840.25,248.49 841.53,251.05 844.09,256.81 846.01,261.29 847.55,265.13 849.21,257.45 851.13,248.49 853.05,249.13 854.97,251.05 856.89,252.97 858.81,253.61 860.09,256.17 861.63,266.41 863.3,277.94 864.19,285.62 865.22,275.38 866.5,260.01 867.78,254.89 870.34,254.25 872.9,254.89 875.46,253.61 877.38,247.21 879.3,249.13 881.86,246.57 884.17,247.21 886.34,243.36 888.26,244.65 889.54,244.65 891.46,243.36 892.75,257.45 894.03,262.57 895.95,263.85 897.87,252.33 899.79,244.65 901.71,250.41 903.63,254.89 905.55,258.73 906.83,264.49 908.75,272.81 910.8,279.8 913.2,243.6 914.8,250 917.2,229.2 918.8,215.6 922,222.8 923.6,250 925.2,269.2 927.6,267.8 930,259.8 932.4,271 934.8,277.4 938,284.6 941.2,274.2 943.92,263.8 946,274.2 948.4,283.8 950.8,281.4 952.4,276.6 954,283 955.6,286.2 958,289.4 959.6,295 961.2,306.2 962.8,314.2 964.4,303 966,295 968.4,291.8 970,274.2 971.6,261.4 973.2,257.4 974.8,259.8 976.4,295 977.2,296.6 978.8,302.2 979.92,307 981.2,301.4 982.8,297.4 985.2,298.2 987.6,299 990,303 992.4,307.8 994.8,306.2 996.4,307 998,309.4 1000.4,310.2 1002.5,316.5 1004.4,314.4 1006.2,312.6 1008,309 1009.9,306.4 1011.5,308.5 1013.2,300 1014.8,290.6 1016.2,299 1017.5,306.5 1020.4,312.5 L1020.4,0 Z" fill="#8db2d4" clip-path="url(#bMed)"/>
<path d="M78.4,0 L78.4,330 81.2,350.8 83.6,336.4 86,334.8 89.2,302.8 92.08,300.4 94,315.6 95.6,328.4 97.52,349.2 100.08,318.8 102,328.4 105.2,315.6 108.4,310.8 111.12,305.2 114,330 116.4,336.4 118.8,324.4 122,326 124.72,318 127.6,330 130.48,333.2 133.2,297.2 135.6,314 138,326.8 142,314 146.8,314 149.52,302 152.4,319.6 155.6,320.4 159.6,327.6 162,329.2 165.2,322 168.88,318 171.6,323.6 174.4,317 176,323 177.6,316 179.6,341 182,335 185,357 189,337 191,328 193.6,312 195.6,325 198,326 201,329 203,333 206,328 209,315 213,317 216,316 219.6,309 222.4,315 225,310 228,308 231,315 234,303 237,325 240,333 243,339 245.6,347 248,335 250,329 252,318 253.6,321 256,317 257.6,323 259,325 261,344 263,333 265.6,314 266,314 267.6,311 270,297 272,316 275,334 278,321 280.4,329 282,334 284,314 287,325 289,313 291.6,309 293.6,322 295,336 297,330 300,327 303,314 305,325 308,327 310,322 313,308 314.4,304 316.8,283.2 319.5,300 322.2,289.2 324.6,301.8 327.6,302.2 330.6,302.4 333,305 334.8,315.6 337,318 338.4,303 340.8,301.8 342.6,299.4 344.4,309.6 346.8,310.8 349.2,288 351,293.4 353.4,298.2 355.8,294 358.2,288.6 360.6,289.2 363,297.6 364.8,309.6 367.5,309 370.5,299.4 373.5,303.5 376.8,316.8 379.2,309.6 382.2,303.6 385.8,298.2 388,296 390,294.6 391.8,301.2 395,298.8 395.73,298.56 397.17,305.76 399.86,306.65 401.66,303.96 404,316.55 406.16,300.36 407.96,294.06 410.65,293.17 414,300.5 417,301.5 420,302.5 423,300.5 425.6,297.5 428,296.5 429.18,315.65 430.44,285.97 431.7,268.88 433.14,275.18 434.58,276.98 436.73,273.38 438.53,281.47 440.33,296.76 443.03,294.96 445.73,289.57 448.42,286.87 450.5,293 452,287 453,287.5 454.5,285.2 456,286 457.5,289.5 459,288 461,281 464.3,271.5 466,275 467.5,277.5 469.5,278.5 471,274 473,269 475,270 476.5,276 478,283 480.5,277.5 483,278 485,280 487,278 489,269 491,271.5 493,276 494,279 496,277 497.5,274.5 499,279.5 501,277 502.8,269.5 504,274 506,275.5 508,274 510,272.5 511.5,279.5 512.5,273 515,270 517,267 519.5,260.5 521.5,265 523,263 525,258 527,263 529,267 531,270 533,261 534.5,265 536,266 538.5,255.5 540.5,262 543.6,258.9 545.5,262.5 547,263.5 549.2,260.3 551,262 552.5,263.5 554.8,268 556.9,263.1 558.7,258.2 560.4,257.5 561.8,247 563.6,243.8 565.2,223 565.5,190 568.4,216.6 569.2,235.8 570.8,257.4 573.2,254.2 576.4,247 579.6,239 582,231.8 583.6,239 586,253.4 588.4,257.4 590,261.4 590.8,266.2 592.4,259 594.8,254.2 596.4,261.4 598.8,260.6 602,256.6 604.4,252.6 606,247 607.6,245.4 609.2,248.6 610.8,243.8 611.6,234.2 612.8,230 615,148.6 617.6,125.5 619.8,153 621.6,219 622,227.8 622.6,235 624.2,243 626.6,239.8 628.6,241 631.4,244.6 634.6,240.6 637.5,241.5 640.2,239 642.2,245.8 644.2,237.4 645.2,212 647.92,200 650,220 651.6,239.2 654,246.4 655.6,237.6 658,235.2 661.2,231.2 662.8,239.2 664.4,247.2 666,234.4 668.4,229.6 670.8,212 672.4,196.8 674,203.2 676.4,208 678,204.8 679.6,189.6 682,122 685.9,77.3 688.5,122 690.3,161 692.4,196 694,212 695.6,226.4 697.2,232.8 699.6,212 702,200.8 704.88,196 706.8,206.4 708.4,223.2 710.8,226.4 713.2,215.2 716.4,205.6 718.8,221.6 721.2,228 723.6,224.8 725.52,223.2 728.29,223.67 730.09,229.96 731.89,236.26 733.69,238.06 735.49,239.86 737.29,234.46 739.09,232.66 741.78,234.46 743.58,237.16 746.28,247.95 748.98,238.96 750.78,236.26 753.47,231.76 756.17,225.47 758.87,221.87 761.57,224.57 763.73,232.66 766.06,248.85 767.86,247.95 769.66,240.76 771.46,235.36 773.26,228.17 775.96,228.17 778.65,227.27 780.45,228.17 782.25,227.27 784.05,226.37 785.85,211.98 787.9,185 790.6,123 793.3,120 796.1,124 798.8,200 799.7,229.96 801.14,238.96 802.04,253.35 804.73,256.04 807.43,257.84 809.23,255.14 811.03,264.14 812.29,271.33 813.73,256.94 815.53,242.55 817.32,240.76 819.76,240.8 821.68,247.21 823.6,257.45 825.78,265.77 828.08,257.45 830.01,251.05 831.93,240.8 833.21,242.08 835.13,248.49 837.05,253.61 838.97,245.93 840.25,248.49 841.53,251.05 844.09,256.81 846.01,261.29 847.55,265.13 849.21,257.45 851.13,248.49 853.05,249.13 854.97,251.05 856.89,252.97 858.81,253.61 860.09,256.17 861.63,266.41 863.3,277.94 864.19,285.62 865.22,275.38 866.5,260.01 867.78,254.89 870.34,254.25 872.9,254.89 875.46,253.61 877.38,247.21 879.3,249.13 881.86,246.57 884.17,247.21 886.34,243.36 888.26,244.65 889.54,244.65 891.46,243.36 892.75,257.45 894.03,262.57 895.95,263.85 897.87,252.33 899.79,244.65 901.71,250.41 903.63,254.89 905.55,258.73 906.83,264.49 908.75,272.81 910.8,279.8 913.2,243.6 914.8,250 917.2,229.2 918.8,215.6 922,222.8 923.6,250 925.2,269.2 927.6,267.8 930,259.8 932.4,271 934.8,277.4 938,284.6 941.2,274.2 943.92,263.8 946,274.2 948.4,283.8 950.8,281.4 952.4,276.6 954,283 955.6,286.2 958,289.4 959.6,295 961.2,306.2 962.8,314.2 964.4,303 966,295 968.4,291.8 970,274.2 971.6,261.4 973.2,257.4 974.8,259.8 976.4,295 977.2,296.6 978.8,302.2 979.92,307 981.2,301.4 982.8,297.4 985.2,298.2 987.6,299 990,303 992.4,307.8 994.8,306.2 996.4,307 998,309.4 1000.4,310.2 1002.5,316.5 1004.4,314.4 1006.2,312.6 1008,309 1009.9,306.4 1011.5,308.5 1013.2,300 1014.8,290.6 1016.2,299 1017.5,306.5 1020.4,312.5 L1020.4,0 Z" fill="#4d7fb2" clip-path="url(#bP5)"/>
<polyline points="78.4,304.4 81.2,303.6 86,300.4 88.4,310.8 90,305.2 93.2,307.6 96.4,307.6 98.8,310 102.8,305.2 106,310 108.4,303.6 111.6,312.4 114,301.2 116.4,302 118.8,306.8 122,292.4 124.4,302 127.6,314.8 130.8,316.4 134,317.2 136.4,316.4 139.6,310 141.2,301.2 144.4,313.2 146.8,308.4 149.2,306 151.6,303.6 154.8,292.4 157.2,297.2 161.2,291.6 165.2,297.2 169.2,290.8 177,301 180,298 184.4,284 187.6,301 191,301 195.6,307 198,301 201,296 204,303 207,304 209,315 212,329 215,315 218,301 221,289 223,280 226,295 228,306 231,310 234,307 238,314 241,312 244,309 247,312 249,301 251,295 254,297 258,291 261,287 264,290 267,265 269.6,282 271.6,284 273.6,298 276,303 278,300 280,281 282,279 284,276 286.4,267 289,285 292,291 295,299 297.6,304 300,295 303,291 306,295 309,300 311.6,291 313.6,267 316,282 319,283 322,264 324.4,290 327,294 330,300 333,302 336,291 339,286 341.6,274 344,286 347,288 350,282 354,277 357,264 360.3,277 362.6,288.7 364.8,271.6 366.6,257.2 368.4,232.7 371.1,244.4 373.4,274.9 373.8,280.6 376.5,284.2 379.2,288.7 381.9,284.2 384.6,278.8 388.2,277 390.9,268.9 393.2,277.9 395.4,271.6 397.2,262.6 399,257 401.1,259 403.5,271.6 405.3,284.2 407.1,286 409.8,275.2 412.5,268 415.2,272.5 417.8,277 420.5,268.9 423.2,254.2 425.6,273.4 428.6,242.6 431.3,234.5 434,235.4 436.7,217.4 440,196.2 442.1,217.4 444.8,237.2 445.7,244.4 447.5,241.7 450,245 452,257.2 453.8,268 455.6,275.8 458,273.4 460.4,271.6 462.8,274 464.6,283.6 467,274 469.4,262 470.6,265.6 472.4,268 474.8,266.8 477.2,266.2 479.6,271.6 481.4,274.6 483.8,272.2 486.2,265.6 488,262 489.8,257.2 492.4,236 495,212 497,214 499,232 501,248 503,266 505,258 508,250 510,249 513,248 516,252 519,257 521,254 523,251 525,253 528,251 530,249 533,240 536,251 538,246 540,224 543.6,223 546,232.6 547.6,227.8 549.2,215 551.2,210.2 554,211 557.8,213.5 560,197 562.2,204.7 564,192.6 565.5,167.3 567.7,192.6 569.9,221.2 571.6,239 574,234 576.4,237.4 579.6,228.6 582.8,239 585.2,230 587.6,221 590.8,190.4 593.4,173.9 595.6,183.8 599.2,195.9 603.6,189.3 606.2,208 609.5,211.3 612.8,212.4 616.1,186 619.4,168.4 622.7,165.1 626,169.5 628.6,205.8 631.5,194.8 634,183.2 635.6,196 636.7,218.4 638.8,188 642.5,149.3 645.6,194.8 648.4,189.6 650.8,183.2 653.4,166.2 656,192 658,212 661.2,220 663.6,225.6 666,222.4 669.2,220.8 671.6,200.8 673.2,189.6 674.8,186.4 676.4,196 678,228 679.6,212 680.9,196 683.5,165 686.7,132.4 689.5,165 692,190 694.8,204 697.2,188 700.4,188 702.8,190.4 705.2,199.2 707.6,207.2 710,186.4 712.7,153.2 716.3,141.5 719.7,168.8 723.6,184.4 727.4,178.3 729.2,192 731,184 732.8,183 734.6,194 737.3,201.2 740,204.8 741.8,210.2 744.5,219.2 747.2,218.3 749.9,220.1 752.6,223.7 755.3,228.2 757.1,218.3 758.9,197.6 760.3,191.3 762.5,203 765.2,215.6 767.9,226.4 770.6,219.2 773.3,225.5 775.1,218.3 777.8,204.8 779.6,194.9 781.4,206.6 783.2,217.4 784.9,218.3 786.7,220.1 789.4,226.4 792.1,230.9 794.8,231.8 797.5,228.2 799.3,221 801.1,203 804.4,192.2 806.5,201.2 809.2,198.5 811,206.6 812.8,221 815.5,225.5 821.2,225.2 824.8,222.8 828.4,220.4 831.3,206 834.4,189.2 836.8,198.8 839.2,215.6 842.8,231.2 846.4,227.6 850,218 853.1,207.2 856,221.6 858.4,201.2 860.8,194 864.4,202.4 867.2,204.8 869.6,222.8 872.8,236 876.4,232.4 878.7,230 880.7,216.8 883.8,247 885.5,244.3 888.3,240.7 891.9,228.8 895.5,227.6 899.1,221.6 902.3,220.4 905.1,232.4 908.7,231.2 910.8,230.8 913.2,235.6 914.8,246.8 916.4,254.8 918.8,258 922,261.2 925.2,262.8 927.6,258.8 930,254.8 932.4,252.4 934.8,258 937.2,261.2 938.8,256.4 940.4,243.6 942.8,243.6 945.2,244.4 946.8,232.4 947.92,222.8 949.2,215.6 950.8,224.4 952.4,235.6 954,250 955.6,262.8 957.2,259.6 958.8,262.8 960.4,271.6 962.8,264.4 965.52,251.6 967.6,262.8 969.2,269.2 971.6,270 974,262.8 976.4,254 978.8,256.4 980.4,267.6 982,278 983.6,264.4 985.2,250 986.8,258 988.4,266.8 990.8,273.2 993.2,278.8 995.6,290 998,290.8 1000.4,291.6 1003.49,285.58 1006.19,281.98 1007.99,283.78 1009.78,287.37 1012.48,278.38 1015.18,276.58 1017.88,271.19 1020.22,264.89 1021.47,276.58 1023.27,290.07 1025.97,290.97 1028.31,299.96 1030.47,289.17 1033.17,276.58 1035.86,273.88 1037.66,275.68 1040.36,281.98 1043.06,285.58 1045.76,283.78 1047.55,281.08 1049.35,289.17 1052.05,296.37 1054.75,287.37 1056.91,281.08 1059.24,283.78 1061.04,292.77 1063.74,299.06 1066.44,292.77 1069.14,287.37 1071.83,282.88 1073.63,285.58 1075.2,284.68" fill="none" stroke="#ff0000" stroke-width="0.8" stroke-dasharray="2.57 1.11" stroke-linejoin="round"/>
<polyline points="78.4,347.6 81.2,347.6 84.4,345.2 87.6,346 90,343.6 92.4,346 94.8,346 97.2,346.8 101.2,356.4 104.4,362 106.8,361.2 109.2,350.8 111.6,345.2 114,350.8 116.4,354.8 119.6,351.6 122.8,352.4 126,354.8 128.4,346.8 130.8,353.2 134,350.8 136.4,346 138.8,341.2 141.2,341.2 143.6,347.6 146.8,354 149.2,353.2 152.4,360.4 156.4,357.2 159.6,356.4 162.8,352.4 166,355.6 169.2,358 172.4,363.6 174.4,357 176,363 178,365 180,369 183,370 186,361 189,360 192,361 195,357 198,354 201,369 203,371 205,363 207,357 210,354 213,357 216,359 219,355 222,361 225,357 228,353 231,350 234,348 237,347 240,356 243,347 245,349 248,345 251,342 254,340 258,341 261,337 264,335 268,337 271,336 273,342 275,358 276.4,364 279,352 281,344 284,342 287,340 290,334 293,337 296,340 299,344 303,346 305,348 308,344 311,335 313,340 315,342 318,337 320,340 322,333 325,331 328,334 331,335 334,331 337,330 340,334 343,331 346,328 349,332 352,327 355,323 360.29,327.34 362.99,330.04 364.79,321.04 367.49,318.35 370.19,316.55 371.99,318.35 374.68,323.74 377.38,325.54 380.08,323.74 382.78,326.44 385.47,327.34 387.27,321.94 389.97,322.84 392.67,321.04 396.27,317.45 398.96,321.94 401.66,330.94 404.36,327.34 407.96,325.54 411.55,321.94 415.15,314.75 417.85,309.35 420.55,307.55 423.24,309.35 425.94,303.96 427.74,300.36 429.54,297.66 433.14,303.96 436.73,303.96 441.23,303.06 443.93,307.55 447.53,308.45 456,307 466,303 472,301 476,302 483,295 486,299 489,300 493,296 498,297 503,291 508,283 512,290 517,288 522,287 526,289 530,286 535,290 540,286 542,283.8 545.2,279.8 547.6,280.6 550,278.2 552.4,275 555.6,276.6 558.8,274.2 561.2,275.8 563.6,271.8 566.8,273.4 570,268.6 572.4,267.8 574.8,275 578,270.2 581.2,271 584.4,271.8 587.6,268.6 590.8,270.2 594,267.8 597.2,264.6 600.4,263.8 603.6,260.6 606.8,263.8 610,259 613.2,257.4 616.4,260.6 619.6,259.8 622.8,258.2 626,256.6 629.2,258.2 632.4,256.6 636.4,252.8 639.6,252 642,258.4 644.4,256.8 646.8,254.4 650,252 653.2,255.2 655.6,256 658.8,256.8 662,255.2 665.2,253.6 668.4,252 671.6,254.4 674.8,252.8 678,252 681.2,249.6 684.4,252 687.6,247.2 690.8,247.2 694,248.8 697.2,247.2 700.4,243.2 703.6,248.8 706.8,245.6 709.2,241.6 712.4,243.2 714.8,242.4 717.2,244.8 720.4,245.6 723.6,244.8 729.19,244.35 732.79,247.95 735.49,249.75 738.19,244.35 741.78,246.15 745.38,246.15 748.98,247.05 752.58,247.95 756.17,247.05 759.77,247.95 762.47,247.95 766.06,250.65 769.66,248.85 772.36,247.95 775.96,247.05 779.55,247.05 783.15,253.35 784.95,257.84 786.75,251.55 789.45,250.65 792.14,256.94 794.84,256.94 797.54,255.14 801.14,256.94 804.73,258.74 808.33,260.54 811.03,260.54 813.73,256.94 816.42,255.14 819.12,251.69 821.04,252.97 822.96,252.33 824.88,254.89 826.8,253.61 829.36,251.69 831.29,252.33 833.21,256.81 835.13,260.01 837.05,263.85 838.97,262.57 840.89,265.77 842.81,264.49 845.37,266.41 847.29,265.77 849.85,262.57 852.41,261.29 854.97,263.85 857.53,268.97 858.81,274.73 860.09,270.89 862.02,266.41 864.58,270.25 866.5,268.97 868.42,272.17 870.34,272.81 872.9,274.73 874.82,276.02 876.74,277.3 878.66,278.58 880.58,280.5 883.14,279.86 885.06,285.62 886.98,283.06 888.9,280.5 890.82,277.94 892.75,279.22 894.67,281.78 896.59,283.06 898.51,286.26 901.07,288.18 903.63,289.46 906.19,290.74 908.75,286.9 910.8,283.8 913.2,285.4 915.6,285.4 918,291.8 920.4,293.4 922.8,293.4 925.2,297.4 927.6,300.6 930,301.4 932.4,299 934.8,296.6 938,296.6 940.4,298.2 942.8,301.4 945.2,307.8 947.6,310.2 950,312.6 952.4,311 954.8,309.4 957.2,315.8 960.4,316.6 963.6,316.6 966,322.2 968.4,323 970.8,323 973.2,325.4 975.6,323.8 978,323 981.2,323 984.4,325.4 986.8,326.2 989.2,327.8 990.8,327 993.2,322.2 995.6,325.4 998,326.2 1000.4,323.8 1003.49,332.34 1006.19,336.83 1008.88,339.53 1011.58,324.24 1014.28,321.55 1016.98,318.85 1019.68,329.64 1022.37,328.74 1025.07,331.44 1027.77,335.94 1030.47,337.73 1033.17,335.94 1035.86,335.94 1039.46,336.83 1042.16,336.83 1045.76,336.83 1048.45,339.53 1051.15,343.13 1053.85,337.73 1056.55,335.94 1059.24,332.34 1061.94,335.04 1064.64,335.94 1067.34,338.63 1070.04,332.34 1072.73,336.83 1075.2,339.53" fill="none" stroke="#add8e6" stroke-width="1.389" stroke-dasharray="5.14 2.22" stroke-linejoin="round"/>
<polyline points="78.4,330 80.4,327.6 83.6,319.6 86,322.8 88.4,324.4 91.6,328.4 94,326.8 97.2,331.6 100.4,329.2 103.6,330.8 106,334 108.4,333.2 111.6,334 114.8,331.6 117.2,333.2 119.28,340.4 122,334 124.4,332.4 127.6,334 130.8,334 134,333.2 137.2,334 142,332.4 146.8,339.6 150,336.4 153.2,338 156.4,338.8 161.2,334.8 165.2,336.4 170,338 173.2,337.2 175,338 178,342 181,337 185,335 188,332 190,335 193,325 196,323 199,324 202,332 204,324 207,331 209,339 212,343 215,343 218,339 221,330 224,328 227,331 230,331 233,329 236,333 239,334 242,331 245,323 249,325 252,319 255,324 258,325 261,321 264,318 267,314 269,320 272,324 275,334 278,324 281,320 284,320 287,320 290,321 293,326 296,331 299,329 302,327 305,329 307,329 310,322 313,318 316,317 319,315 322,313 325,313 328,316 331,325 334,323 337,318 340,315 343,312 346,310 349,314 352,311 355,304 360.29,309.35 362.4,308.4 364.2,309.6 366,300 368.4,297.6 371.4,299.4 375,302.4 377.4,306 379.8,308.4 383.4,301.2 387,298.8 390.6,297.6 395,300 398.06,305.76 400.76,303.96 403.46,303.06 406.16,304.86 408.86,302.16 411.55,301.26 414.25,302.16 416.05,303.96 418.75,299.46 421.45,294.96 424.14,290.47 426.84,285.07 429.54,284.17 432.24,283.27 434.58,276.98 436.73,273.38 438.53,279.68 440.33,284.17 443.03,287.77 445.73,285.97 448.42,283.27 450.5,284.5 452,289 454,288 456,289 458,289.5 460,291.5 461.5,295 463,293 464.5,292 466,294 467.5,293.5 469.5,290.5 471,290 473,289.5 475,288 477,289 479,290 481,291.5 483,289 485,285 487,282 489,281.5 491,280.5 493,280 495,279 497,276.5 499,277.5 501,277 503,276.5 505,275.5 507,274.5 509,273.5 511,271.5 513,271 515,270 516.5,268.5 518,269.5 520,271 522,271.5 523.5,274 525,277 526.5,275 528,272 530,270 532,272.5 533.5,271.5 535.5,269.5 537.5,268 540.1,264.5 542,264.5 545,263.1 547,264 548.5,268 549.6,271.5 551.3,268.7 553,265.2 554.8,261 556.9,251.9 558,251.6 559,256.1 560.4,259.6 562.2,258.6 563.6,259.3 565.7,262.4 567.4,259.3 568.8,258.6 570.9,259.6 573,261 575.8,262.4 578,263.1 580.4,261.4 582.8,260.6 586,259 589.2,259 592.4,255 595.6,249.4 598.8,247.8 602,248.6 606.6,239 609,248.6 612,245.4 614.6,239 617,241.4 618.6,237.4 620.6,226.2 622.6,231 625,235 628.2,238.2 630.6,239.8 633.8,245.4 637,240.6 640.2,237 643.4,237.4 646,236.8 648.4,238.4 650.8,241.6 654,240.8 657.2,240.8 660.4,240 663.6,239.2 666.8,240 670,236.8 672.4,240.8 675.6,248 678,244 681.2,236 684.4,228.8 686.8,229.6 689.2,231.2 691.6,236.8 694,242.4 696.4,235.2 698.8,232.8 701.2,232 702.8,227.2 705.2,232.8 707.6,232 710,226.4 712.4,228 714.8,229.6 717.2,228 719.6,227.2 722,232 724.4,232 727.4,232.66 730.09,234.46 732.79,234.46 735.49,235.36 738.19,232.66 740.88,233.56 743.58,234.46 746.28,237.16 748.98,239.86 751.68,238.06 754.37,238.06 757.07,237.16 759.77,238.06 762.47,235.36 765.17,238.06 767.86,237.16 770.56,238.06 773.26,236.26 775.96,233.56 778.65,229.06 780.45,227.27 782.25,232.66 784.95,236.26 787.65,237.16 790.35,240.76 793.04,246.15 795.74,247.95 798.44,245.25 801.14,236.26 803.83,242.55 806.53,245.25 809.23,242.55 811.93,240.76 814.63,239.86 817.32,238.96 819.76,238.88 822.32,240.16 824.88,244.65 826.8,247.21 828.72,243.36 831.29,234.4 833.21,240.8 835.13,248.49 837.05,254.25 838.97,247.21 840.89,248.49 842.81,249.13 844.73,245.29 846.65,250.41 848.57,249.77 850.49,247.85 852.41,247.85 854.33,249.77 856.25,252.97 858.17,253.61 860.09,254.25 862.02,251.69 863.94,253.61 865.86,251.69 867.78,249.77 870.34,249.13 872.9,250.41 875.46,252.97 878.02,257.45 880.58,257.45 883.14,266.41 885.06,258.73 886.98,258.09 888.9,262.57 890.82,266.41 892.75,261.93 894.67,265.13 896.59,268.33 898.51,264.49 901.07,265.13 903.63,266.41 905.55,267.05 907.47,262.57 912.4,257.4 914.8,263 917.2,270.2 920.4,271.8 923.6,272.6 926,274.2 928.4,279.8 931.6,281.4 934.8,283 938,284.6 941.2,283 944.4,283.8 947.6,287 950.8,288.6 954,288.6 957.2,287.8 959.6,288.6 962,296.6 964.4,294.2 966.8,293.4 968.4,292.6 970.8,295.8 973.2,298.2 975.6,297.4 978,297.4 980.4,298.2 982.8,299.8 985.2,301.4 987.6,303.8 990,306.2 992.4,308.6 994.8,309.4 997.2,310.2 999.6,311.8 1001.2,307 1003.2,312.3 1006,313 1008.1,316.5 1010.3,315.5 1013,308.1 1015.1,305.3 1017.2,309.5 1020,315.1 1022.8,315.8 1025.6,317.2 1028.4,310.9 1031.3,306.5 1034.06,312.55 1036.76,321.55 1039.46,318.85 1042.16,317.95 1044.86,313.45 1047.55,311.65 1050.25,312.55 1052.95,322.45 1055.65,317.05 1058.35,307.16 1061.04,308.96 1063.74,313.45 1066.44,311.65 1069.14,316.15 1071.83,322.45 1073.63,326.94 1075.2,327.84" fill="none" stroke="#000000" stroke-width="2.78" stroke-linejoin="round" stroke-linecap="square"/>
<polyline points="78.4,330 81.2,350.8 83.6,336.4 86,334.8 89.2,302.8 92.08,300.4 94,315.6 95.6,328.4 97.52,349.2 100.08,318.8 102,328.4 105.2,315.6 108.4,310.8 111.12,305.2 114,330 116.4,336.4 118.8,324.4 122,326 124.72,318 127.6,330 130.48,333.2 133.2,297.2 135.6,314 138,326.8 142,314 146.8,314 149.52,302 152.4,319.6 155.6,320.4 159.6,327.6 162,329.2 165.2,322 168.88,318 171.6,323.6 174.4,317 176,323 177.6,316 179.6,341 182,335 185,357 189,337 191,328 193.6,312 195.6,325 198,326 201,329 203,333 206,328 209,315 213,317 216,316 219.6,309 222.4,315 225,310 228,308 231,315 234,303 237,325 240,333 243,339 245.6,347 248,335 250,329 252,318 253.6,321 256,317 257.6,323 259,325 261,344 263,333 265.6,314 266,314 267.6,311 270,297 272,316 275,334 278,321 280.4,329 282,334 284,314 287,325 289,313 291.6,309 293.6,322 295,336 297,330 300,327 303,314 305,325 308,327 310,322 313,308 314.4,304 316.8,283.2 319.5,300 322.2,289.2 324.6,301.8 327.6,302.2 330.6,302.4 333,305 334.8,315.6 337,318 338.4,303 340.8,301.8 342.6,299.4 344.4,309.6 346.8,310.8 349.2,288 351,293.4 353.4,298.2 355.8,294 358.2,288.6 360.6,289.2 363,297.6 364.8,309.6 367.5,309 370.5,299.4 373.5,303.5 376.8,316.8 379.2,309.6 382.2,303.6 385.8,298.2 388,296 390,294.6 391.8,301.2 395,298.8 395.73,298.56 397.17,305.76 399.86,306.65 401.66,303.96 404,316.55 406.16,300.36 407.96,294.06 410.65,293.17 414,300.5 417,301.5 420,302.5 423,300.5 425.6,297.5 428,296.5 429.18,315.65 430.44,285.97 431.7,268.88 433.14,275.18 434.58,276.98 436.73,273.38 438.53,281.47 440.33,296.76 443.03,294.96 445.73,289.57 448.42,286.87 450.5,293 452,287 453,287.5 454.5,285.2 456,286 457.5,289.5 459,288 461,281 464.3,271.5 466,275 467.5,277.5 469.5,278.5 471,274 473,269 475,270 476.5,276 478,283 480.5,277.5 483,278 485,280 487,278 489,269 491,271.5 493,276 494,279 496,277 497.5,274.5 499,279.5 501,277 502.8,269.5 504,274 506,275.5 508,274 510,272.5 511.5,279.5 512.5,273 515,270 517,267 519.5,260.5 521.5,265 523,263 525,258 527,263 529,267 531,270 533,261 534.5,265 536,266 538.5,255.5 540.5,262 543.6,258.9 545.5,262.5 547,263.5 549.2,260.3 551,262 552.5,263.5 554.8,268 556.9,263.1 558.7,258.2 560.4,257.5 561.8,247 563.6,243.8 565.2,223 565.5,190 568.4,216.6 569.2,235.8 570.8,257.4 573.2,254.2 576.4,247 579.6,239 582,231.8 583.6,239 586,253.4 588.4,257.4 590,261.4 590.8,266.2 592.4,259 594.8,254.2 596.4,261.4 598.8,260.6 602,256.6 604.4,252.6 606,247 607.6,245.4 609.2,248.6 610.8,243.8 611.6,234.2 612.8,230 615,148.6 617.6,125.5 619.8,153 621.6,219 622,227.8 622.6,235 624.2,243 626.6,239.8 628.6,241 631.4,244.6 634.6,240.6 637.5,241.5 640.2,239 642.2,245.8 644.2,237.4 645.2,212 647.92,200 650,220 651.6,239.2 654,246.4 655.6,237.6 658,235.2 661.2,231.2 662.8,239.2 664.4,247.2 666,234.4 668.4,229.6 670.8,212 672.4,196.8 674,203.2 676.4,208 678,204.8 679.6,189.6 682,122 685.9,77.3 688.5,122 690.3,161 692.4,196 694,212 695.6,226.4 697.2,232.8 699.6,212 702,200.8 704.88,196 706.8,206.4 708.4,223.2 710.8,226.4 713.2,215.2 716.4,205.6 718.8,221.6 721.2,228 723.6,224.8 725.52,223.2 728.29,223.67 730.09,229.96 731.89,236.26 733.69,238.06 735.49,239.86 737.29,234.46 739.09,232.66 741.78,234.46 743.58,237.16 746.28,247.95 748.98,238.96 750.78,236.26 753.47,231.76 756.17,225.47 758.87,221.87 761.57,224.57 763.73,232.66 766.06,248.85 767.86,247.95 769.66,240.76 771.46,235.36 773.26,228.17 775.96,228.17 778.65,227.27 780.45,228.17 782.25,227.27 784.05,226.37 785.85,211.98 787.9,185 790.6,123 793.3,120 796.1,124 798.8,200 799.7,229.96 801.14,238.96 802.04,253.35 804.73,256.04 807.43,257.84 809.23,255.14 811.03,264.14 812.29,271.33 813.73,256.94 815.53,242.55 817.32,240.76 819.76,240.8 821.68,247.21 823.6,257.45 825.78,265.77 828.08,257.45 830.01,251.05 831.93,240.8 833.21,242.08 835.13,248.49 837.05,253.61 838.97,245.93 840.25,248.49 841.53,251.05 844.09,256.81 846.01,261.29 847.55,265.13 849.21,257.45 851.13,248.49 853.05,249.13 854.97,251.05 856.89,252.97 858.81,253.61 860.09,256.17 861.63,266.41 863.3,277.94 864.19,285.62 865.22,275.38 866.5,260.01 867.78,254.89 870.34,254.25 872.9,254.89 875.46,253.61 877.38,247.21 879.3,249.13 881.86,246.57 884.17,247.21 886.34,243.36 888.26,244.65 889.54,244.65 891.46,243.36 892.75,257.45 894.03,262.57 895.95,263.85 897.87,252.33 899.79,244.65 901.71,250.41 903.63,254.89 905.55,258.73 906.83,264.49 908.75,272.81 910.8,279.8 913.2,243.6 914.8,250 917.2,229.2 918.8,215.6 922,222.8 923.6,250 925.2,269.2 927.6,267.8 930,259.8 932.4,271 934.8,277.4 938,284.6 941.2,274.2 943.92,263.8 946,274.2 948.4,283.8 950.8,281.4 952.4,276.6 954,283 955.6,286.2 958,289.4 959.6,295 961.2,306.2 962.8,314.2 964.4,303 966,295 968.4,291.8 970,274.2 971.6,261.4 973.2,257.4 974.8,259.8 976.4,295 977.2,296.6 978.8,302.2 979.92,307 981.2,301.4 982.8,297.4 985.2,298.2 987.6,299 990,303 992.4,307.8 994.8,306.2 996.4,307 998,309.4 1000.4,310.2 1002.5,316.5 1004.4,314.4 1006.2,312.6 1008,309 1009.9,306.4 1011.5,308.5 1013.2,300 1014.8,290.6 1016.2,299 1017.5,306.5 1020.4,312.5" fill="none" stroke="#000000" stroke-width="1.389" stroke-linejoin="round" stroke-linecap="square"/>
</g>
<path d="M78.5 60.5H1075.5V445.5H78.5Z" fill="none" stroke="#000" stroke-width="1.1"/>
<path d="M78.5 445V450.4M163.5 445V450.4M240.5 445V450.4M325.5 445V450.4M407.5 445V450.4M492.5 445V450.4M574.5 445V450.4M659.5 445V450.4M744.5 445V450.4M826.5 445V450.4M911.5 445V450.4M993.5 445V450.4M73.5 412.5H78M73.5 341.5H78M73.5 269.5H78M73.5 197.5H78M73.5 126.5H78" stroke="#000" stroke-width="1.1" fill="none"/>
<text transform="translate(69 419.5) scale(1 1.03)" style="font-family:'DejaVu Sans','Liberation Sans',sans-serif;font-size:19.44px" text-anchor="end">10</text>
<text transform="translate(69 348.5) scale(1 1.03)" style="font-family:'DejaVu Sans','Liberation Sans',sans-serif;font-size:19.44px" text-anchor="end">15</text>
<text transform="translate(69 276.5) scale(1 1.03)" style="font-family:'DejaVu Sans','Liberation Sans',sans-serif;font-size:19.44px" text-anchor="end">20</text>
<text transform="translate(69 204.5) scale(1 1.03)" style="font-family:'DejaVu Sans','Liberation Sans',sans-serif;font-size:19.44px" text-anchor="end">25</text>
<text transform="translate(69 133.5) scale(1 1.03)" style="font-family:'DejaVu Sans','Liberation Sans',sans-serif;font-size:19.44px" text-anchor="end">30</text>
<text transform="translate(78.4 468.9) scale(1 1.08)" style="font-family:'DejaVu Sans','Liberation Sans',sans-serif;font-size:16.67px" text-anchor="middle">Ene</text>
<text transform="translate(163.29 468.9) scale(1 1.08)" style="font-family:'DejaVu Sans','Liberation Sans',sans-serif;font-size:16.67px" text-anchor="middle">Feb</text>
<text transform="translate(239.97 468.9) scale(1 1.08)" style="font-family:'DejaVu Sans','Liberation Sans',sans-serif;font-size:16.67px" text-anchor="middle">Mar</text>
<text transform="translate(324.86 468.9) scale(1 1.08)" style="font-family:'DejaVu Sans','Liberation Sans',sans-serif;font-size:16.67px" text-anchor="middle">Abr</text>
<text transform="translate(407.02 468.9) scale(1 1.08)" style="font-family:'DejaVu Sans','Liberation Sans',sans-serif;font-size:16.67px" text-anchor="middle">May</text>
<text transform="translate(491.91 468.9) scale(1 1.08)" style="font-family:'DejaVu Sans','Liberation Sans',sans-serif;font-size:16.67px" text-anchor="middle">Jun</text>
<text transform="translate(574.06 468.9) scale(1 1.08)" style="font-family:'DejaVu Sans','Liberation Sans',sans-serif;font-size:16.67px" text-anchor="middle">Jul</text>
<text transform="translate(658.95 468.9) scale(1 1.08)" style="font-family:'DejaVu Sans','Liberation Sans',sans-serif;font-size:16.67px" text-anchor="middle">Ago</text>
<text transform="translate(743.85 468.9) scale(1 1.08)" style="font-family:'DejaVu Sans','Liberation Sans',sans-serif;font-size:16.67px" text-anchor="middle">Sep</text>
<text transform="translate(826 468.9) scale(1 1.08)" style="font-family:'DejaVu Sans','Liberation Sans',sans-serif;font-size:16.67px" text-anchor="middle">Oct</text>
<text transform="translate(910.89 468.9) scale(1 1.08)" style="font-family:'DejaVu Sans','Liberation Sans',sans-serif;font-size:16.67px" text-anchor="middle">Nov</text>
<text transform="translate(993.05 468.9) scale(1 1.08)" style="font-family:'DejaVu Sans','Liberation Sans',sans-serif;font-size:16.67px" text-anchor="middle">Dic</text>
<text x="576.8" y="31.8" style="font-family:'DejaVu Sans','Liberation Sans',sans-serif;font-size:25.1px" text-anchor="middle" fill="#2e6da4">Temperatura Media diaria - Haría</text>
<text transform="translate(48.9 54.8) scale(1 1.07)" style="font-family:'DejaVu Sans','Liberation Sans',sans-serif;font-size:16.67px">℃</text>
<text transform="translate(83 54.8) scale(1 1.07)" style="font-family:'DejaVu Sans','Liberation Sans',sans-serif;font-size:16.67px">Última temp: 2025-12-11</text>
<text x="88.2" y="83.7" style="font-family:'DejaVu Sans','Liberation Sans',sans-serif;font-size:22.22px" fill="#2e6da4">WWW.EMBALSES.NET</text>
<rect x="185.9" y="476.6" width="782.2" height="40" rx="3.3" ry="3.3" fill="#ffffff" fill-opacity="0.8" stroke="#cccccc" stroke-width="1.1"/>
<path d="M191.9 491.4H225.1" stroke="#ff0000" stroke-width="0.8" stroke-dasharray="2.57 1.11"/>
<path d="M370.1 491.4H403.7" stroke="#add8e6" stroke-width="1.389" stroke-dasharray="5.14 2.22"/>
<path d="M538.3 491.4H571.5" stroke="#000" stroke-width="2.78" stroke-linecap="square"/>
<path d="M799.6 491.4H832.3" stroke="#000" stroke-width="1.389" stroke-linecap="square"/>
<text transform="translate(238.7 496.5) scale(1 1.07)" style="font-family:'DejaVu Sans','Liberation Sans',sans-serif;font-size:16.67px">Percentil 95</text>
<text transform="translate(416.3 496.5) scale(1 1.07)" style="font-family:'DejaVu Sans','Liberation Sans',sans-serif;font-size:16.67px">Percentil 5</text>
<text transform="translate(584.6 496.5) scale(1 1.07)" style="font-family:'DejaVu Sans','Liberation Sans',sans-serif;font-size:16.67px">Temperatura Mediana</text>
<text transform="translate(846.4 496.5) scale(1 1.07)" style="font-family:'DejaVu Sans','Liberation Sans',sans-serif;font-size:16.67px">T. Media 2025</text>
</svg>
</body></html>
